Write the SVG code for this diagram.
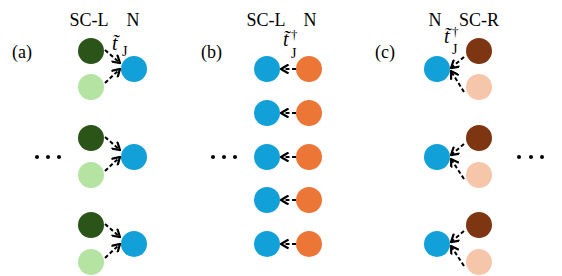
<svg xmlns="http://www.w3.org/2000/svg" width="562" height="276" viewBox="0 0 562 276">
<style>
text{font-family:"Liberation Serif","Times New Roman",serif;fill:#000}
.lbl{font-size:18px}
.hdr{font-size:18px;text-anchor:middle}
.t{font-size:20px;font-style:italic}
.sub{font-size:14px}
.sup{font-size:13px}
.dg{fill:#2a5418}.lg{fill:#b4e3a2}.bl{fill:#11a0d8}.or{fill:#eb7636}.br{fill:#7e3511}.pc{fill:#f6c6ab}
.cn{stroke:#000;stroke-width:2;stroke-dasharray:4 2.5;fill:none}
.dot{fill:#000}
</style>
<defs>
<marker id="ah" viewBox="0 0 10 10" refX="9" refY="5" markerWidth="10" markerHeight="10" markerUnits="userSpaceOnUse" orient="auto">
<polyline points="1.5,0.5 9,5 1.5,9.5" fill="none" stroke="#000" stroke-width="2.2"/>
</marker>
</defs>
<g id="labels">
<text class="lbl" x="12" y="58">(a)</text>
<text class="lbl" x="201" y="58">(b)</text>
<text class="lbl" x="375" y="58">(c)</text>
<text class="hdr" x="89" y="26">SC-L</text>
<text class="hdr" x="133" y="26">N</text>
<text class="hdr" x="266" y="26">SC-L</text>
<text class="hdr" x="310" y="26">N</text>
<text class="hdr" x="435" y="26">N</text>
<text class="hdr" x="479" y="26">SC-R</text>
<text class="t" x="112" y="50">t&#x303;</text><text class="sub" x="122" y="56">J</text>
<text class="t" x="283" y="46">t&#x303;</text><text class="sup" x="291" y="39">†</text><text class="sub" x="291" y="58">J</text>
<text class="t" x="444" y="43">t&#x303;</text><text class="sup" x="452" y="36">†</text><text class="sub" x="452" y="54">J</text>
</g>
<g id="dots">
<circle class="dot" cx="37" cy="157" r="2"/><circle class="dot" cx="48" cy="157" r="2"/><circle class="dot" cx="59" cy="157" r="2"/>
<circle class="dot" cx="213" cy="157" r="2"/><circle class="dot" cx="224" cy="157" r="2"/><circle class="dot" cx="235" cy="157" r="2"/>
<circle class="dot" cx="519" cy="157" r="2"/><circle class="dot" cx="531" cy="157" r="2"/><circle class="dot" cx="542" cy="157" r="2"/>
</g>
<g id="panel-a">
<g id="a1"><circle class="dg" cx="91" cy="51" r="13"/><circle class="lg" cx="91" cy="87" r="13"/><circle class="bl" cx="134" cy="69" r="13"/></g>
<g id="a2"><circle class="dg" cx="91" cy="138" r="13"/><circle class="lg" cx="91" cy="175" r="13"/><circle class="bl" cx="134" cy="157" r="13"/></g>
<g id="a3"><circle class="dg" cx="91" cy="225" r="13"/><circle class="lg" cx="91" cy="262" r="13"/><circle class="bl" cx="134" cy="244" r="13"/></g>
</g>
<g id="panel-b">
<g id="b1"><circle class="bl" cx="267" cy="69" r="13"/><circle class="or" cx="309" cy="69" r="13"/></g>
<g id="b2"><circle class="bl" cx="267" cy="113" r="13"/><circle class="or" cx="309" cy="113" r="13"/></g>
<g id="b3"><circle class="bl" cx="267" cy="157" r="13"/><circle class="or" cx="309" cy="157" r="13"/></g>
<g id="b4"><circle class="bl" cx="267" cy="200" r="13"/><circle class="or" cx="309" cy="200" r="13"/></g>
<g id="b5"><circle class="bl" cx="267" cy="244" r="13"/><circle class="or" cx="309" cy="244" r="13"/></g>
</g>
<g id="panel-c">
<g id="c1"><circle class="bl" cx="437" cy="69" r="13"/><circle class="br" cx="479" cy="51" r="13"/><circle class="pc" cx="479" cy="87" r="13"/></g>
<g id="c2"><circle class="bl" cx="437" cy="157" r="13"/><circle class="br" cx="479" cy="138" r="13"/><circle class="pc" cx="479" cy="175" r="13"/></g>
<g id="c3"><circle class="bl" cx="437" cy="244" r="13"/><circle class="br" cx="479" cy="225" r="13"/><circle class="pc" cx="479" cy="262" r="13"/></g>
</g>
<g id="connectors">
<path class="cn" marker-end="url(#ah)" d="M105,50 L120,63"/>
<path class="cn" marker-end="url(#ah)" d="M105,83 L120,69"/>
<path class="cn" marker-end="url(#ah)" d="M105,137 L120,150"/>
<path class="cn" marker-end="url(#ah)" d="M105,171 L120,157"/>
<path class="cn" marker-end="url(#ah)" d="M105,224 L120,237"/>
<path class="cn" marker-end="url(#ah)" d="M105,258 L120,244"/>
<path class="cn" marker-end="url(#ah)" d="M296,69 L281,69"/>
<path class="cn" marker-end="url(#ah)" d="M296,113 L281,113"/>
<path class="cn" marker-end="url(#ah)" d="M296,157 L281,157"/>
<path class="cn" marker-end="url(#ah)" d="M296,200 L281,200"/>
<path class="cn" marker-end="url(#ah)" d="M296,244 L281,244"/>
<path class="cn" marker-end="url(#ah)" d="M464,57 L451,68"/>
<path class="cn" marker-end="url(#ah)" d="M464,92 L451,71"/>
<path class="cn" marker-end="url(#ah)" d="M464,144 L451,155"/>
<path class="cn" marker-end="url(#ah)" d="M464,179 L451,159"/>
<path class="cn" marker-end="url(#ah)" d="M464,231 L451,242"/>
<path class="cn" marker-end="url(#ah)" d="M464,266 L451,246"/>
</g>
</svg>
